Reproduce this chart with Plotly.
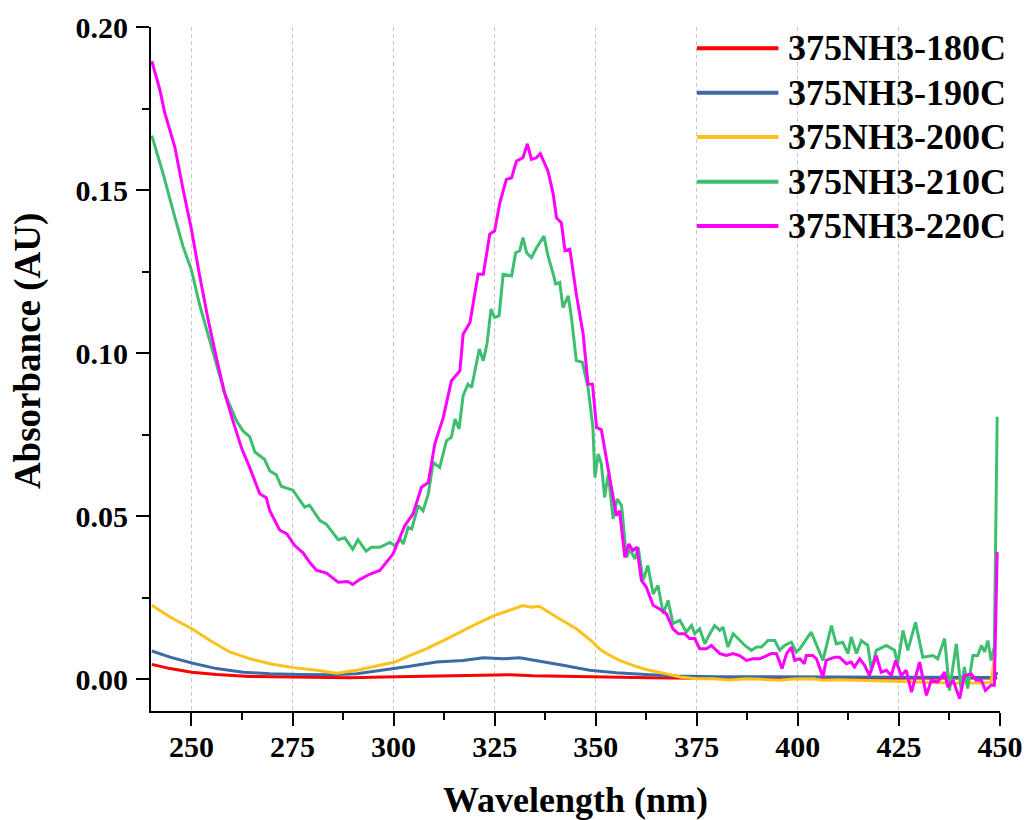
import plotly.graph_objects as go

# ---------------- data ----------------
series_names = ["375NH3-180C", "375NH3-190C", "375NH3-200C", "375NH3-210C", "375NH3-220C"]
series_colors = ["#ff0000", "#3b6ba5", "#fcc21b", "#3dbf6f", "#ff00ff"]

x_180 = [240.2, 244.7, 250.1, 256.2, 264.5, 272.7, 281.0, 289.2, 297.4, 305.7, 313.9, 322.2,
         328.7, 334.5, 342.7, 350.9, 363.4, 380, 400, 420, 440, 448.6, 449.3]
y_180 = [0.0046, 0.0033, 0.0022, 0.0015, 0.0009, 0.0007, 0.0005, 0.0005, 0.0007, 0.0009, 0.0011, 0.0012,
         0.0014, 0.0011, 0.0009, 0.0007, 0.0005, 0.0003, 0.0003, 0.0002, 0.0002, 0.0002, 0.0004]

x_190 = [240.2, 244.7, 250.1, 256.2, 262.8, 269.4, 276.8, 284.3, 290.9, 297.4, 304.0, 310.6, 317.2,
         322.2, 327.1, 331.2, 336.2, 341.9, 348.5, 355.1, 363.4, 370, 380, 400, 420, 440, 448.6, 449.3]
y_190 = [0.0087, 0.0068, 0.0050, 0.0033, 0.0022, 0.0017, 0.0015, 0.0014, 0.0017, 0.0028, 0.0040, 0.0053, 0.0058,
         0.0066, 0.0063, 0.0066, 0.0056, 0.0043, 0.0028, 0.0020, 0.0014, 0.0010, 0.0008, 0.0007, 0.0006, 0.0006,
         0.0006, 0.0022]

x_200 = [240.2, 244.7, 250.1, 254.6, 259.5, 264.5, 269.4, 275.2, 281.0, 285.9, 290.9, 295.8, 300.3, 304.0,
         308.2, 312.3, 317.2, 321.3, 325.0, 328.7, 332.0, 334.0, 336.0, 340.3, 345.2, 349.3, 351.0, 353.5,
         355.9, 359.2, 362.5, 366.7, 370.8, 374.9, 379.0, 383.0, 387.3, 391.0, 395.5, 399.0, 403.7, 406.2,
         410.0, 415.0, 420.0, 425.0, 430.0, 435.0, 440.0, 444.0, 447.8, 448.6]
y_200 = [0.0227, 0.0191, 0.0155, 0.0119, 0.0084, 0.0063, 0.0048, 0.0036, 0.0028, 0.0019, 0.0028, 0.0040,
         0.0053, 0.0073, 0.0094, 0.0119, 0.0150, 0.0175, 0.0196, 0.0211, 0.0226, 0.0221, 0.0224, 0.0191,
         0.0155, 0.0114, 0.0092, 0.0073, 0.0058, 0.0043, 0.0030, 0.0019, 0.0007, 0.0002, 0.0002, -0.0002,
         0.0002, 0.0000, -0.0003, 0.0001, 0.0002, -0.0003, -0.0001, -0.0003, -0.0005, -0.0006, -0.0008,
         -0.0010, -0.0012, -0.0011, -0.0010, 0.0068]

x_210 = [240.2, 243.0, 245.5, 247.9, 250.0, 252.0, 254.5, 256.2, 258.2, 261.2, 262.8, 264.4, 265.7, 268.1,
         269.4, 271.0, 272.2, 275.1, 278.0, 279.2, 281.8, 283.4, 286.3, 287.9, 289.9, 291.2, 293.2, 294.5,
         296.6, 299.1, 300.3, 301.6, 302.4, 303.6, 304.5, 306.1, 307.3, 308.6, 309.8, 311.4, 313.1, 314.3,
         315.2, 316.2, 317.2, 318.4, 319.3, 321.2, 322.2, 323.1, 324.1, 325.0, 326.1, 327.1, 329.2, 330.2,
         331.2, 332.0, 332.9, 334.1, 335.4, 337.2, 338.2, 339.5, 340.1, 341.1, 341.9, 343.2, 344.0, 345.2,
         346.7, 348.1, 349.3, 349.8, 350.6, 351.4, 352.2, 353.1, 354.3, 355.3, 356.4, 357.6, 358.4, 359.7,
         360.5, 361.7, 362.9, 364.2, 365.4, 366.7, 367.9, 369.1, 370.8, 372.4, 373.7, 374.5, 375.7, 377.0,
         377.8, 379.4, 380.7, 381.5, 382.7, 384.0, 385.6, 386.9, 388.5, 389.8, 391.0, 392.6, 394.3, 395.5,
         396.7, 398.4, 399.6, 400.5, 403.3, 406.2, 408.3, 409.5, 411.1, 412.4, 413.2, 414.5, 415.7, 417.3,
         418.2, 419.4, 421.9, 423.9, 424.7, 426.0, 427.2, 429.1, 430.9, 433.4, 434.6, 436.3, 437.5, 439.2,
         440.4, 441.2, 442.0, 443.3, 444.5, 445.4, 446.2, 447.0, 447.8, 448.6, 449.3]
y_210 = [0.1667, 0.1550, 0.1435, 0.1328, 0.1255, 0.1150, 0.1040, 0.0966, 0.0878, 0.0791, 0.0761, 0.0744,
         0.0697, 0.0674, 0.0639, 0.0627, 0.0592, 0.0580, 0.0528, 0.0534, 0.0487, 0.0475, 0.0428, 0.0434,
         0.0399, 0.0428, 0.0393, 0.0405, 0.0405, 0.0420, 0.0410, 0.0431, 0.0415, 0.0466, 0.0461, 0.0533,
         0.0517, 0.0569, 0.0665, 0.0650, 0.0732, 0.0742, 0.0798, 0.0768, 0.0870, 0.0905, 0.0895, 0.1013,
         0.0977, 0.1028, 0.1135, 0.1109, 0.1115, 0.1242, 0.1237, 0.1308, 0.1314, 0.1354, 0.1308, 0.1293,
         0.1324, 0.1359, 0.1298, 0.1242, 0.1212, 0.1217, 0.1140, 0.1176, 0.1109, 0.0977, 0.0972, 0.0895,
         0.0773, 0.0619, 0.0691, 0.0660, 0.0558, 0.0630, 0.0492, 0.0553, 0.0533, 0.0374, 0.0400, 0.0369,
         0.0405, 0.0303, 0.0349, 0.0262, 0.0288, 0.0201, 0.0242, 0.0171, 0.0181, 0.0145, 0.0165, 0.0140,
         0.0155, 0.0109, 0.0130, 0.0165, 0.0150, 0.0160, 0.0099, 0.0140, 0.0119, 0.0104, 0.0089, 0.0099,
         0.0099, 0.0119, 0.0119, 0.0089, 0.0104, 0.0114, 0.0084, 0.0094, 0.0145, 0.0058, 0.0165, 0.0109,
         0.0114, 0.0079, 0.0130, 0.0079, 0.0119, 0.0104, 0.0028, 0.0089, 0.0104, 0.0089, 0.0048, 0.0150,
         0.0089, 0.0175, 0.0068, 0.0073, 0.0063, 0.0125, -0.0034, 0.0109, -0.0034, 0.0038, -0.0028, 0.0073,
         0.0073, 0.0104, 0.0084, 0.0119, 0.0058, 0.0100, 0.0805]

x_220 = [240.2, 242.2, 243.4, 245.9, 247.9, 250.0, 252.0, 254.1, 256.2, 258.2, 260.3, 262.4, 264.4, 266.9,
         268.5, 269.4, 271.8, 273.6, 275.5, 277.6, 279.3, 280.9, 283.4, 286.3, 288.7, 289.9, 291.6, 294.2,
         296.6, 299.9, 302.8, 304.8, 306.9, 308.6, 310.2, 312.3, 314.3, 316.4, 317.2, 318.9, 320.9, 322.2,
         323.8, 325.0, 326.3, 327.9, 329.2, 330.4, 332.0, 333.1, 334.1, 335.3, 336.3, 338.2, 339.5, 340.3,
         341.5, 342.4, 343.6, 345.2, 346.9, 348.1, 349.2, 350.2, 351.4, 352.7, 354.3, 355.1, 355.9, 357.2,
         358.2, 359.2, 360.2, 361.3, 362.5, 364.2, 365.8, 367.5, 369.1, 370.4, 372.0, 373.2, 374.5, 375.7,
         377.4, 378.6, 380.7, 382.3, 384.0, 385.6, 387.3, 388.9, 390.6, 392.2, 393.4, 394.7, 396.1, 397.2,
         398.4, 399.2, 400.5, 401.6, 402.1, 403.7, 404.6, 406.2, 407.0, 409.1, 410.3, 412.0, 413.2, 414.0,
         415.3, 416.5, 417.7, 419.4, 420.6, 421.9, 423.1, 424.2, 425.6, 426.8, 428.1, 430.1, 431.8, 433.0,
         434.6, 436.3, 437.1, 438.4, 440.0, 441.2, 442.9, 444.1, 445.4, 446.4, 447.8, 448.6, 449.3]
y_220 = [0.1895, 0.1807, 0.1737, 0.1632, 0.1504, 0.1380, 0.1240, 0.1105, 0.0985, 0.0878, 0.0791, 0.0709,
         0.0650, 0.0569, 0.0557, 0.0516, 0.0458, 0.0446, 0.0411, 0.0388, 0.0358, 0.0335, 0.0326, 0.0298,
         0.0300, 0.0291, 0.0306, 0.0323, 0.0334, 0.0385, 0.0472, 0.0507, 0.0589, 0.0604, 0.0722, 0.0803,
         0.0915, 0.0946, 0.1058, 0.1094, 0.1242, 0.1242, 0.1365, 0.1375, 0.1462, 0.1533, 0.1538, 0.1589,
         0.1599, 0.1642, 0.1594, 0.1599, 0.1612, 0.1558, 0.1487, 0.1415, 0.1400, 0.1314, 0.1319, 0.1181,
         0.1058, 0.0905, 0.0905, 0.0773, 0.0765, 0.0671, 0.0558, 0.0502, 0.0517, 0.0374, 0.0415, 0.0395,
         0.0405, 0.0303, 0.0283, 0.0227, 0.0216, 0.0201, 0.0155, 0.0140, 0.0140, 0.0125, 0.0125, 0.0094,
         0.0094, 0.0104, 0.0079, 0.0073, 0.0079, 0.0073, 0.0058, 0.0063, 0.0063, 0.0073, 0.0079, 0.0079,
         0.0033, 0.0079, 0.0099, 0.0058, 0.0063, 0.0048, 0.0073, 0.0073, 0.0063, 0.0007, 0.0058, 0.0068,
         0.0068, 0.0048, 0.0053, 0.0038, 0.0063, 0.0043, 0.0012, 0.0073, 0.0022, 0.0028, 0.0012, 0.0058,
         0.0012, 0.0028, -0.0039, 0.0053, -0.0049, -0.0003, -0.0008, 0.0022, -0.0024, -0.0003, -0.0059,
         0.0012, 0.0017, -0.0003, -0.0003, -0.0034, -0.0018, -0.0018, 0.0390]

x_tickvals = [250, 275, 300, 325, 350, 375, 400, 425, 450]
y_tickvals = [0.00, 0.05, 0.10, 0.15, 0.20]
x_title = "Wavelength (nm)"
y_title = "Absorbance (AU)"

xs = [x_180, x_190, x_200, x_210, x_220]
ys = [y_180, y_190, y_200, y_210, y_220]

FONT = "Liberation Serif, Times New Roman, serif"

fig = go.Figure()
for name, color, xv, yv in zip(series_names, series_colors, xs, ys):
    fig.add_trace(go.Scatter(x=xv, y=yv, mode="lines", name=name,
                             line=dict(color=color, width=3), showlegend=False))

# custom legend (long line samples like the original)
leg_rows = [0.9689, 0.9040, 0.8392, 0.7738, 0.7091]
for name, color, yy in zip(series_names, series_colors, leg_rows):
    fig.add_shape(type="line", xref="paper", yref="paper", x0=0.643, x1=0.739, y0=yy, y1=yy,
                  line=dict(color=color, width=4))
    fig.add_annotation(xref="paper", yref="paper", x=0.748, y=yy, text=name, showarrow=False,
                       xanchor="left", yanchor="middle",
                       font=dict(family=FONT, size=36, color="black", weight="bold"))

# y-axis title (placed slightly above the plot centre as in the original)
fig.add_annotation(xref="paper", yref="paper", x=-0.145, y=0.526, text=y_title, showarrow=False,
                   textangle=-90, xanchor="center", yanchor="middle",
                   font=dict(family=FONT, size=37, color="black", weight="bold"))

fig.update_layout(
    width=1025, height=820,
    margin=dict(l=151, r=25, t=27, b=109, autoexpand=False),
    paper_bgcolor="white", plot_bgcolor="white",
    font=dict(family=FONT, color="black"),
)
fig.update_xaxes(
    range=[240, 450], tickvals=x_tickvals, ticks="outside", ticklen=13, tickwidth=2, tickcolor="black",
    showline=True, linewidth=2, linecolor="black", mirror=False, zeroline=False, automargin=False,
    showgrid=True, gridcolor="#c8c8c8", gridwidth=1, griddash="4px,3px",
    minor=dict(tick0=250, dtick=12.5, ticks="outside", ticklen=7, tickwidth=2, tickcolor="black", showgrid=False),
    tickfont=dict(family=FONT, size=30, color="black", weight="bold"),
    ticklabelstandoff=-5,
    title=dict(text=x_title, font=dict(family=FONT, size=36, color="black", weight="bold"), standoff=25),
)
fig.update_yaxes(
    range=[-0.0097, 0.2], tickvals=y_tickvals, tickformat=".2f", ticks="outside", ticklen=13, tickwidth=2,
    tickcolor="black", showline=True, linewidth=2, linecolor="black", mirror=False, zeroline=False,
    automargin=False, showgrid=False,
    minor=dict(tick0=0, dtick=0.025, ticks="outside", ticklen=7, tickwidth=2, tickcolor="black", showgrid=False),
    tickfont=dict(family=FONT, size=30, color="black", weight="bold"),
    ticklabelstandoff=2,
)

fig.write_html("out.html", config={"displayModeBar": False},
               post_script="document.body.style.margin='0';")
